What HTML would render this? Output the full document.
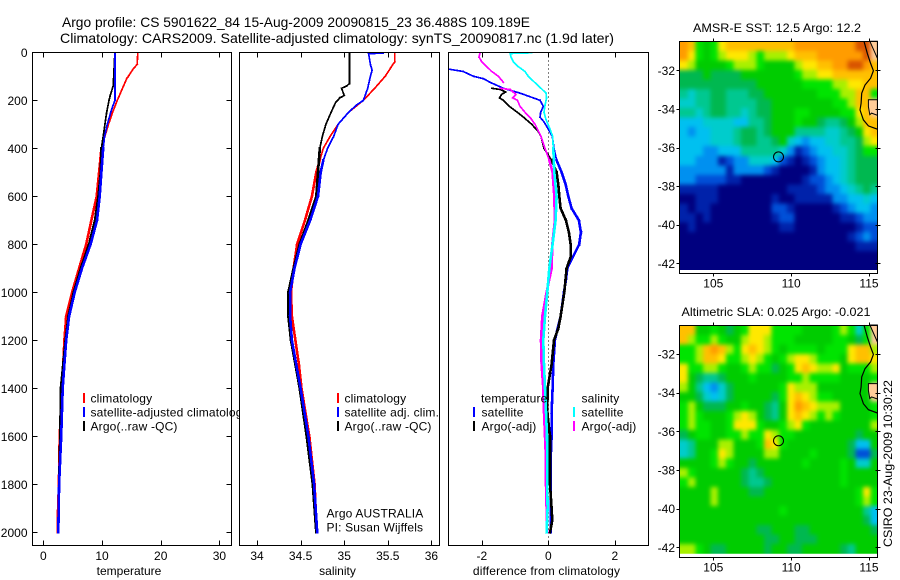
<!DOCTYPE html>
<html><head><meta charset="utf-8"><title>Argo profile</title>
<style>
html,body{margin:0;padding:0;background:#fff;width:900px;height:580px;overflow:hidden}
svg{display:block}
text{font-family:"Liberation Sans",sans-serif;font-size:12px;fill:#000}
</style></head>
<body>
<svg id="chart" xmlns="http://www.w3.org/2000/svg" width="900" height="580" viewBox="0 0 900 580">
<text x="62" y="27" style="font-size:14px" textLength="468" lengthAdjust="spacingAndGlyphs">Argo profile: CS 5901622_84 15-Aug-2009 20090815_23 36.488S 109.189E</text>
<text x="60" y="43" style="font-size:14px" textLength="554" lengthAdjust="spacingAndGlyphs">Climatology: CARS2009. Satellite-adjusted climatology: synTS_20090817.nc (1.9d later)</text>
</svg>
<script>
// ---- profile data (depth in dbar; temperature, salinity, differences) ----
const tempClimDepth=[0,50,70,100,110,150,200,250,300,350,400,500,600,700,800,900,1000,1100,1200,1400,1600,1800,1950,2000];
const tempClimValues=[16.1,16,15.3,14.5,14.2,13.5,12.6,11.8,11.1,10.5,9.9,9.5,9.1,8.2,7.3,6.1,4.9,3.9,3.6,3.2,2.8,2.65,2.45,2.45];
const tempArgoDepth=[0,140,180,200,250,300,350,400,500,600,700,800,900,1000,1100,1200,1400,1600,1800,2000];
const tempArgoValues=[12.2,11.9,11.4,11.2,10.8,10.5,10.2,9.9,9.8,9.4,8.8,7.8,6.4,5.2,4.3,3.8,3,2.9,2.7,2.55];
const tempSatDepth=[0,200,220,250,300,350,400,500,600,700,800,900,1000,1100,1200,1300,1400,1600,1800,2000];
const tempSatValues=[12.2,12.2,11.9,11.5,10.9,10.45,10.2,9.9,9.6,9.15,8.05,6.6,5.35,4.4,3.9,3.6,3.3,3.05,2.7,2.55];

const salClimDepth=[0,40,50,100,150,200,250,300,350,400,450,500,600,700,800,900,1000,1100,1200,1300,1400,1600,1800,2000];
const salClimValues=[35.58,35.58,35.56,35.47,35.35,35.22,35.05,34.93,34.84,34.76,34.72,34.68,34.63,34.55,34.46,34.42,34.39,34.4,34.44,34.48,34.51,34.6,34.66,34.685];
const salArgoDepth=[0,130,140,150,180,190,210,250,300,350,400,500,600,700,800,900,1000,1100,1200,1300,1400,1600,1800,1950,2000];
const salArgoValues=[35.06,35.06,35.03,34.97,35,34.95,34.9,34.85,34.79,34.75,34.72,34.7,34.68,34.59,34.49,34.42,34.36,34.36,34.39,34.44,34.49,34.57,34.64,34.67,34.68];
const salSatDepth=[4,5,50,75,100,150,200,220,250,300,350,400,450,500,600,700,800,900,1000,1100,1200,1300,1400,1600,1800,2000];
const salSatValues=[35.45,35.28,35.3,35.32,35.3,35.27,35.22,35.14,35.05,34.93,34.88,34.81,34.76,34.73,34.7,34.61,34.5,34.43,34.38,34.38,34.4,34.45,34.5,34.59,34.655,34.69];

const diffTempSatDepth=[70,80,100,110,125,150,170,190,200,225,250,270,290,320,350,400,450,500,550,600,650,700,750,800,850,900,950,1000,1050,1100,1150,1200,1300,1400,1500,1600,1700,1800,1900,2000];
const diffTempSatValues=[-3,-2.56,-2.25,-1.95,-1.75,-1.35,-0.85,-0.45,-0.25,-0.15,-0.23,-0.25,-0.13,0,0.12,0.17,0.25,0.4,0.52,0.6,0.7,0.92,0.98,0.93,0.75,0.57,0.53,0.47,0.42,0.37,0.28,0.2,0.15,0.13,0.1,0.1,0.07,0.07,0.07,0.07];
const diffTempArgoDepth=[150,155,165,175,190,200,225,250,270,300,330,350,400,450,500,550,600,650,700,750,800,850,880,900,1000,1100,1150,1200,1300,1400,1500,1600,1700,1800,1900,1950,2000];
const diffTempArgoValues=[-1.7,-1.45,-1.28,-1.4,-1.47,-1.35,-1.17,-0.93,-0.75,-0.5,-0.3,-0.22,-0.13,0.1,0.25,0.3,0.33,0.37,0.53,0.62,0.67,0.68,0.6,0.55,0.48,0.37,0.3,0.17,0.1,-0.02,-0.03,0.05,0.05,0.05,0.1,0.12,0.05];
const diffSalSatDepth=[2,5,20,40,60,80,100,120,150,170,190,220,250,280,320,350,400,500,600,700,800,900,1000,1100,1200,1300,1400,1500,1600,1700,1800,1900,2000];
const diffSalSatValues=[-0.5,-1.15,-1.12,-1.05,-0.9,-0.7,-0.6,-0.45,-0.22,-0.07,-0.05,-0.1,-0.13,-0.07,0.05,0.13,0.15,0.18,0.25,0.22,0.13,0.03,-0.03,-0.1,-0.15,-0.13,-0.1,-0.07,-0.04,-0.03,-0.03,-0.02,-0.05];
const diffSalArgoDepth=[0,20,40,60,80,100,125,null,150,155,175,190,200,225,250,275,300,350,400,450,500,600,700,800,900,1000,1100,1200,1300,1400,1500,1600,1700,1800,1900,2000];
const diffSalArgoValues=[-2.05,-2.08,-2,-1.85,-1.7,-1.5,-1.35,null,-1.45,-1.15,-0.97,-1.07,-0.93,-0.85,-0.7,-0.53,-0.4,-0.22,-0.1,0.03,0.13,0.18,0.2,0.12,0.1,-0.05,-0.18,-0.22,-0.2,-0.15,-0.13,-0.1,-0.07,-0.07,-0.05,-0.04];

// ---- tick labels ----
const depthTicks=[0,200,400,600,800,1000,1200,1400,1600,1800,2000];
const tempTicks=[0,10,20,30];
const salTicks=[34,34.5,35,35.5,36];
const diffTicks=[-2,0,2];
const lonTicks=[105,110,115];
const latTicks=[32,34,36,38,40,42];

// ---- map grids (colour levels 0-14, -1 = land), 0.5 degree rows north to south ----
const sstGrid=[
[13,12,9,8,9,11,12,12,12,12,12,12,12,12,12,13,13,13,13,13,13,13,13,14,14,-1],
[13,11,9,8,9,10,11,11,11,10,9,10,10,10,11,12,12,12,13,13,13,13,13,13,14,-1],
[11,10,8,8,8,8,9,10,10,10,9,8,8,8,8,10,11,11,12,12,13,13,14,14,13,12],
[7,7,7,8,7,7,7,7,8,8,8,8,8,8,8,9,10,10,11,11,12,12,12,12,12,12],
[7,7,7,7,7,7,7,7,7,7,8,8,8,8,8,8,9,9,9,9,10,10,11,11,12,12],
[6,5,6,6,7,7,6,6,6,7,7,8,8,8,8,8,8,8,9,9,9,10,10,12,12,9],
[5,5,6,6,7,7,6,6,6,6,7,7,8,8,8,8,8,8,8,8,9,9,10,12,12,-1],
[6,6,5,6,7,7,6,6,5,6,7,7,8,8,8,9,9,8,8,8,8,9,9,11,12,-1],
[4,4,4,5,5,5,5,4,4,6,6,7,8,8,8,9,8,8,7,6,6,7,8,10,12,12],
[4,3,4,4,5,5,5,6,7,7,6,7,8,8,8,6,6,6,6,5,5,6,7,8,11,12],
[4,4,4,4,5,5,5,6,7,7,6,6,7,8,5,4,3,4,4,5,5,6,6,7,10,11],
[4,4,4,3,3,4,4,4,6,6,6,6,6,5,3,1,2,3,4,4,5,5,6,7,9,9],
[4,4,3,3,3,1,2,3,3,5,5,5,4,2,1,0,1,2,3,4,4,5,6,7,7,7],
[3,3,3,3,3,3,1,3,3,3,3,2,1,0,0,0,0,1,3,4,4,5,6,7,7,7],
[3,3,2,2,2,2,1,1,0,0,0,0,0,0,0,0,1,2,2,3,4,5,6,7,7,7],
[1,1,1,1,1,0,0,0,0,0,0,0,0,0,1,1,1,1,2,3,3,4,5,6,7,6],
[0,0,1,1,1,0,0,0,0,0,0,0,1,0,0,1,1,1,1,1,3,3,4,4,5,4],
[1,0,1,1,0,0,0,0,0,0,0,0,2,2,1,0,0,0,0,0,1,2,3,4,4,3],
[1,1,0,1,0,0,0,0,0,0,0,0,1,2,2,0,0,0,0,0,0,1,1,2,3,3],
[0,1,0,0,0,0,0,0,0,0,0,0,0,1,1,0,0,0,0,0,0,0,0,1,2,2],
[0,0,0,0,0,0,0,0,0,0,0,0,0,0,0,0,0,0,0,0,0,0,1,2,3,2],
[0,0,0,0,0,0,0,0,0,0,0,0,0,0,0,0,0,0,0,0,0,0,0,1,1,1],
[0,0,0,0,0,0,0,0,0,0,0,0,0,0,0,0,0,0,0,0,0,0,0,0,0,0],
[0,0,0,0,0,0,0,0,0,0,0,0,0,0,0,0,0,0,0,0,0,0,0,0,0,0]];
const slaGrid=[
[12,12,8,8,9,8,7,8,9,11,11,11,9,9,9,9,8,8,8,8,9,10,9,5,9,-1],
[12,10,9,9,10,9,8,8,10,11,11,10,9,9,9,8,8,8,8,8,9,9,8,7,9,-1],
[9,9,10,12,13,12,10,9,11,12,11,10,9,8,9,9,9,9,8,9,9,9,11,12,12,10],
[9,9,10,12,12,11,9,9,10,11,10,9,8,9,10,11,11,10,9,9,9,8,11,12,12,11],
[11,9,9,10,10,9,8,8,9,10,9,9,7,8,9,11,12,11,10,10,11,8,9,9,9,10],
[11,8,7,6,6,7,8,8,8,9,8,8,8,8,9,9,10,9,9,9,9,8,8,8,8,9],
[10,8,6,4,3,5,7,8,8,8,8,8,8,9,11,10,10,10,8,8,8,8,8,8,8,-1],
[8,8,7,5,4,5,7,8,8,8,8,8,7,9,11,12,11,10,9,9,8,8,8,8,8,-1],
[9,10,8,7,7,7,8,8,9,8,8,7,6,8,11,13,12,11,10,10,10,8,8,8,8,9],
[9,10,9,8,8,8,9,10,11,10,8,7,6,8,11,12,11,10,9,10,9,8,8,8,8,9],
[9,10,9,9,8,8,9,11,11,11,9,8,8,9,10,11,9,8,8,8,8,8,8,8,8,10],
[7,8,9,9,8,8,9,9,10,9,9,11,10,9,9,8,8,8,8,8,8,8,8,7,8,8],
[5,6,8,8,8,10,10,8,8,8,9,12,11,9,8,8,8,8,8,8,8,8,7,4,4,8],
[5,6,8,8,9,11,10,8,8,8,8,10,10,8,8,8,8,9,8,8,8,8,7,2,2,7],
[8,8,8,8,9,10,9,8,8,7,8,8,8,8,8,8,9,8,8,8,8,9,8,5,5,8],
[10,9,8,8,8,8,8,8,7,6,7,8,8,8,8,8,8,8,8,8,8,9,8,8,8,8],
[9,10,8,8,8,8,8,8,7,6,6,7,8,8,8,8,8,8,8,8,8,9,8,8,8,8],
[8,8,8,8,10,8,8,8,8,7,7,8,8,8,8,8,8,8,8,8,8,8,8,9,11,9],
[8,8,8,8,10,8,8,8,8,8,8,8,8,8,8,8,8,8,8,8,8,8,8,9,10,9],
[8,8,8,8,8,8,8,8,8,8,8,8,8,9,8,8,8,8,8,8,8,8,8,8,6,4],
[8,8,8,8,8,8,8,8,8,8,8,8,8,8,8,8,8,8,8,8,8,8,8,8,7,4],
[8,8,8,8,8,8,8,8,8,8,7,7,8,8,8,7,7,8,8,8,8,8,8,8,8,7],
[8,8,8,8,8,8,8,8,8,8,8,7,7,8,8,7,7,7,8,8,8,8,8,8,8,8],
[10,10,9,8,7,7,8,8,8,8,8,7,8,8,7,7,8,8,8,8,8,7,6,8,8,8]];

// ---- coastline (lon, south lat) ----
const coastLon=[114.68,114.89,115.1,115.28,115.1,114.74,114.53,114.49,114.42,114.64,114.96,115.54];
const coastLat=[30.5,31.12,31.64,32.02,32.41,32.76,33.19,33.71,34.05,34.57,34.88,35.05];
const landNorthLon=[115.06,115.54,115.54];
const landNorthLat=[30.5,31.38,30.5];
const landBlockLon=[114.96,115.54,115.54,115.17,115.05,114.96];
const landBlockLat=[33.53,33.53,34.33,34.22,34.3,33.88];
const floatLon=[109.189];
const floatLat=[36.488];

const palette=['#00007f','#0022aa','#0050d8','#0090f0','#00c0f0','#00cccc','#00c890','#00b850','#00cc00','#00e400','#a8f000','#ffe800','#ffc000','#ff9c00','#d85400'];
const landColor='#ffcc99';

const svg=document.getElementById('chart');
const NS='http://www.w3.org/2000/svg';
function mk(tag,attrs,parent){
  const el=document.createElementNS(NS,tag);
  for(const k in attrs)el.setAttribute(k,attrs[k]);
  (parent||svg).appendChild(el);
  return el;
}

// ---- axis functions ----
const depthY=d=>52.3+d*0.24;
const tempX=v=>43.3+v*5.87;
const salX=v=>257+(v-34)*87.2;
const diffX=v=>548.3+v*33.25;
const lonX=l=>713.3+(l-105)*15.57;
const lat1Y=l=>70.3+(l-32)*19.3;
const lat2Y=l=>354+(l-32)*19.33;
const PANEL_TOP=52.5,PANEL_BOTTOM=545.5;

function panel(idx,l,r,xTicks,xFn,xLabel,xLabelX,xLabelW){
  const bg=mk('rect',{x:l,y:PANEL_TOP,width:r-l,height:PANEL_BOTTOM-PANEL_TOP,fill:'#fff',stroke:'none'});
  
  
  const cp=mk('clipPath',{id:'clip'+idx});
  mk('rect',{x:l,y:PANEL_TOP,width:r-l,height:PANEL_BOTTOM-PANEL_TOP},cp);
  xTicks.forEach(t=>{
    const x=Math.round(xFn(t))+0.5;
    const tk=mk('path',{d:`M${x} ${PANEL_TOP}v5M${x} ${PANEL_BOTTOM}v-5`,stroke:'#000','stroke-width':1,fill:'none','shape-rendering':'crispEdges'});
    
    
    const lb=mk('text',{x:xFn(t),y:560,'text-anchor':'middle'});
    lb.textContent=String(t);
    
    
  });
  const xl=mk('text',{x:xLabelX,y:575,'text-anchor':'middle','letter-spacing':xLabelW||0});
  xl.textContent=xLabel;
  
  
}
function frame(l,r){
  const f=mk('rect',{x:l,y:PANEL_TOP,width:r-l,height:PANEL_BOTTOM-PANEL_TOP,fill:'none',stroke:'#000','stroke-width':1,'shape-rendering':'crispEdges'});
  
  
}
function profile(depths,values,xFn,color,clipId,name){
  // thin in the upper ocean, thicker below, like the closely spaced plotted samples
  let upper='',lower='',penUp=true;
  for(let i=0;i<depths.length;i++){
    if(depths[i]===null){penUp=true;continue;}
    const x=xFn(values[i]).toFixed(1),y=depthY(depths[i]).toFixed(1);
    if(penUp){penUp=false;continue;}
    const px=xFn(values[i-1]).toFixed(1),py=depthY(depths[i-1]).toFixed(1);
    if(depths[i]<=450)upper+=`M${px} ${py}L${x} ${y}`;else lower+=`M${px} ${py}L${x} ${y}`;
  }
  const g=mk('g',{'clip-path':`url(#${clipId})`,fill:'none',stroke:color,'stroke-linecap':'square','shape-rendering':'crispEdges'});
  
  
  mk('path',{d:upper,'stroke-width':1.7},g);
  mk('path',{d:lower,'stroke-width':2.6},g);
}
function legend(x,y,color,label,tx){
  if(color){
    const m=mk('rect',{x:x,y:y-5,width:2,height:10,fill:color,'shape-rendering':'crispEdges'});
    
    
  }
  const t=mk('text',{x:tx,y:y+4.5,'letter-spacing':'0.16'});
  t.textContent=label;
  
  
}

// ---- panel 1: temperature ----
panel(1,32.5,231.5,tempTicks,tempX,'temperature',129);
depthTicks.forEach(d=>{
  const y=Math.round(depthY(d))+0.5;
  const tk=mk('path',{d:`M32.5 ${y}h5M231.5 ${y}h-5`,stroke:'#000','stroke-width':1,fill:'none','shape-rendering':'crispEdges'});
  
  
  const lb=mk('text',{x:27.5,y:depthY(d)+4.5,'text-anchor':'end'});
  lb.textContent=String(d);
  
  
});
profile(tempClimDepth,tempClimValues,tempX,'#ff0000','clip1','temperature-climatology-line');
profile(tempArgoDepth,tempArgoValues,tempX,'#000000','clip1','temperature-argo-line');
profile(tempSatDepth,tempSatValues,tempX,'#0000ff','clip1','temperature-satellite-line');
frame(32.5,231.5);
legend(83,398,'#ff0000','climatology',90.5);
legend(83,412,'#0000ff','satellite-adjusted climatology',90.5);
legend(83,426,'#000000','Argo(..raw -QC)',90.5);

// ---- panel 2: salinity ----
panel(2,239.5,439.5,salTicks,salX,'salinity',337.5);
profile(salClimDepth,salClimValues,salX,'#ff0000','clip2','salinity-climatology-line');
profile(salArgoDepth,salArgoValues,salX,'#000000','clip2','salinity-argo-line');
profile(salSatDepth,salSatValues,salX,'#0000ff','clip2','salinity-satellite-line');
frame(239.5,439.5);
legend(337,398,'#ff0000','climatology',344.5);
legend(337,412,'#0000ff','satellite adj. clim.',344.5);
legend(337,426,'#000000','Argo(..raw -QC)',344.5);
legend(0,513,null,'Argo AUSTRALIA',326.5);
legend(0,527,null,'PI: Susan Wijffels',326.5);

// ---- panel 3: differences ----
panel(3,448.5,648.5,diffTicks,diffX,'difference from climatology',546.5,0.15);
const zero=mk('path',{d:`M${Math.round(diffX(0))+0.5} ${PANEL_TOP}V${PANEL_BOTTOM}`,stroke:'#000','stroke-width':1,'stroke-dasharray':'1 3',fill:'none','shape-rendering':'crispEdges'});


profile(diffTempSatDepth,diffTempSatValues,diffX,'#0000ff','clip3','temperature-difference-satellite-line');
profile(diffTempArgoDepth,diffTempArgoValues,diffX,'#000000','clip3','temperature-difference-argo-line');
profile(diffSalArgoDepth,diffSalArgoValues,diffX,'#ff00ff','clip3','salinity-difference-argo-line');
profile(diffSalSatDepth,diffSalSatValues,diffX,'#00ffff','clip3','salinity-difference-satellite-line');
frame(448.5,648.5);
legend(0,398,null,'temperature',481);
legend(473,412,'#0000ff','satellite',481.5);
legend(473,426,'#000000','Argo(-adj)',481.5);
legend(0,398,null,'salinity',581.5);
legend(573,412,'#00ffff','satellite',581.5);
legend(573,426,'#ff00ff','Argo(-adj)',581.5);

// ---- maps ----
const smooth=mk('filter',{id:'map-smooth',filterUnits:'userSpaceOnUse',x:640,y:0,width:260,height:580,'color-interpolation-filters':'sRGB'});
mk('feGaussianBlur',{stdDeviation:2.2},smooth);

function map(grid,latY,top,imgBottom,axisBottom,title,titleX,titleW,name){
  const left=679.5,right=877.5,lon0=102.87,latTop=(top-latY(32))/(latY(33)-latY(32))+32;
  const lonStep=(right-left)/26/15.57;
  const latStep=(imgBottom-top)/24/(latY(33)-latY(32));
  const cp=mk('clipPath',{id:'clip-'+name});
  mk('rect',{x:left,y:top,width:right-left,height:imgBottom-top},cp);
  const outer=mk('g',{'clip-path':`url(#clip-${name})`});
  
  
  const g=mk('g',{filter:'url(#map-smooth)','shape-rendering':'crispEdges'},outer);
  const pad=12;
  grid.forEach((row,r)=>row.forEach((v,c)=>{
    // outer cells run past the clip so the smoothing keeps full colour at the map edge
    const x0=lonX(lon0+c*lonStep)-(c===0?pad:0),x1=lonX(lon0+(c+1)*lonStep)+(c===row.length-1?pad:0);
    const y0=latY(latTop+r*latStep)-(r===0?pad:0),y1=latY(latTop+(r+1)*latStep)+(r===grid.length-1?pad:0);
    const cell=mk('rect',{x:x0,y:y0,width:x1-x0+0.5,height:y1-y0+0.5,fill:v<0?landColor:palette[v]},g);
    
    
  }));
  const pts=(lo,la)=>lo.map((l,i)=>lonX(l).toFixed(1)+','+latY(la[i]).toFixed(1)).join(' ');
  const ln=mk('polygon',{points:pts(landNorthLon,landNorthLat),fill:landColor,stroke:'#000','stroke-width':1},svg);
  
  
  const lb=mk('polygon',{points:pts(landBlockLon,landBlockLat),fill:landColor,stroke:'#000','stroke-width':1},svg);
  
  
  const cl=mk('polyline',{points:pts(coastLon,coastLat),fill:'none',stroke:'#000','stroke-width':1.2});
  
  
  const fm=mk('circle',{cx:lonX(floatLon[0]),cy:latY(floatLat[0]),r:5,fill:'none',stroke:'#000','stroke-width':1});
  
  
  const fr=mk('rect',{x:left,y:top,width:right-left,height:axisBottom-top,fill:'none',stroke:'#000','stroke-width':1,'shape-rendering':'crispEdges'});
  
  
  lonTicks.forEach(t=>{
    const x=Math.round(lonX(t))+0.5;
    const k=mk('path',{d:`M${x} ${top-3}v3M${x} ${axisBottom}v3`,stroke:'#000',fill:'none','shape-rendering':'crispEdges'});
    
    
    const lt=mk('text',{x:lonX(t),y:axisBottom+14,'text-anchor':'middle'});
    lt.textContent=String(t);
    
    
  });
  latTicks.forEach(t=>{
    const y=Math.round(latY(t))+0.5;
    const k=mk('path',{d:`M${left-3} ${y}h3M${right-2} ${y}h5`,stroke:'#000',fill:'none','shape-rendering':'crispEdges'});
    
    
    const lt=mk('text',{x:left-4.5,y:latY(t)+4.5,'text-anchor':'end'});
    lt.textContent='-'+t;
    
    
  });
  const tt=mk('text',{x:titleX,y:top-9.5,textLength:titleW,lengthAdjust:'spacingAndGlyphs'});
  tt.textContent=title;
  
  
}
map(sstGrid,lat1Y,41.5,270,273.5,'AMSR-E SST: 12.5  Argo: 12.2',693,168,'sst-map');
map(slaGrid,lat2Y,325.5,553.7,557.5,'Altimetric SLA: 0.025  Argo: -0.021',681.5,189,'sla-map');

const stamp=mk('text',{transform:'translate(892,547) rotate(-90)',textLength:167,lengthAdjust:'spacingAndGlyphs'});
stamp.textContent='CSIRO 23-Aug-2009 10:30:22';


</script>
</body></html>
